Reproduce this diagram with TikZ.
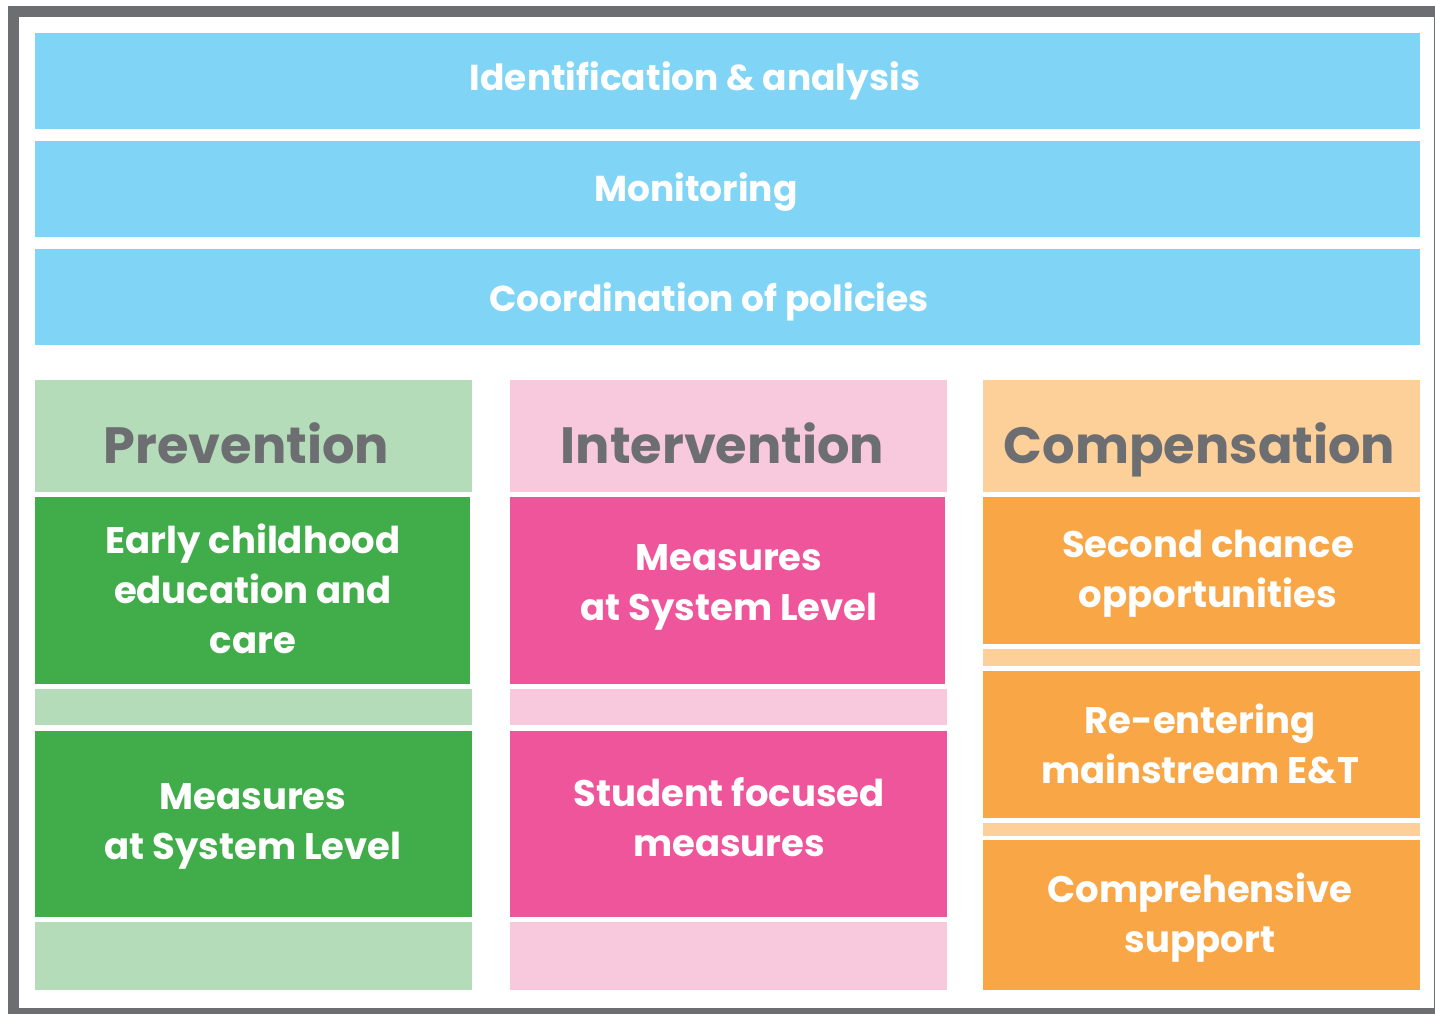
\documentclass[tikz,border=0pt]{standalone}
\usepackage{fontspec}
\setmainfont{Poppins}
\definecolor{cblue}{HTML}{80D5F7}
\definecolor{clgreen}{HTML}{B4DCB9}
\definecolor{cgreen}{HTML}{41AC4A}
\definecolor{clpink}{HTML}{F8C8DD}
\definecolor{cpink}{HTML}{EF559B}
\definecolor{clorange}{HTML}{FDD099}
\definecolor{corange}{HTML}{F9A646}
\definecolor{cgray}{HTML}{6D6E71}
\tikzset{
  box/.style={inner sep=0pt, outer sep=0pt, anchor=north west, draw=none},
  wtxt/.style={text=white, font=\bfseries\fontsize{36}{50}\selectfont, align=center, inner sep=0pt, anchor=base},
  btxt/.style={text=white, font=\bfseries\fontsize{37}{50}\selectfont, align=center, inner sep=0pt},
  htxt/.style={text=cgray, font=\bfseries\fontsize{51}{55}\selectfont, align=center, inner sep=0pt, anchor=base},
}
\newcommand{\bx}[6]{\node[box, fill=#6, minimum width=#4pt-#2pt, minimum height=#5pt-#3pt] (#1) at (#2,#3) {};}
\begin{document}
\begin{tikzpicture}[x=1pt,y=-1pt]
\useasboundingbox (0,0) rectangle (1435,1014);
\clip (0,0) rectangle (1435,1014);
\node[box, draw=cgray, line width=11pt, minimum width=1425.5pt, minimum height=1002pt] (frame) at (13.5,11.5) {};
% blue bars
\bx{b1}{35}{33}{1420}{129}{cblue}
\bx{b2}{35}{141}{1420}{237}{cblue}
\bx{b3}{35}{249}{1420}{345}{cblue}
\node[wtxt] (t1) at (695,91) {Identification \& analysis};
\node[wtxt] (t2) at (696,201) {Monitoring};
\node[wtxt] (t3) at (709,311) {Coordination of policies};
% prevention
\bx{ph}{35}{380}{472}{492}{clgreen}
\bx{p1}{35}{497}{470}{684}{cgreen}
\bx{pm}{35}{689}{472}{725}{clgreen}
\bx{p2}{35}{731}{472}{917}{cgreen}
\bx{pb}{35}{922}{472}{990}{clgreen}
% intervention
\bx{ih}{510}{380}{947}{492}{clpink}
\bx{i1}{510}{497}{945}{684}{cpink}
\bx{im}{510}{689}{947}{725}{clpink}
\bx{i2}{510}{731}{947}{917}{cpink}
\bx{ib}{510}{922}{947}{990}{clpink}
% compensation
\bx{ch}{983}{380}{1420}{492}{clorange}
\bx{c1}{983}{497}{1420}{644}{corange}
\bx{cm1}{983}{649}{1420}{666}{clorange}
\bx{c2}{983}{671}{1420}{818}{corange}
\bx{cm2}{983}{823}{1420}{836}{clorange}
\bx{c3}{983}{840}{1420}{990}{corange}
% headers
\node[htxt] (hp) at (246.5,463) {Prevention};
\node[htxt] (hi) at (722.5,463) {Intervention};
\node[htxt] (hc) at (1199.5,463) {Compensation};
% body texts
\node[btxt] (tp1) at (253,589) {Early childhood\\education and\\care};
\node[btxt] (tp2) at (253,826) {Measures\\at System Level};
\node[btxt] (ti1) at (729,587) {Measures\\at System Level};
\node[btxt] (ti2) at (729,817) {Student focused\\measures};
\node[btxt] (tc1) at (1208,574) {Second chance\\opportunities};
\node[btxt] (tc2) at (1200,744) {Re-entering\\mainstream E\&T};
\node[btxt] (tc3) at (1200,918) {Comprehensive\\support};
\end{tikzpicture}
\end{document}
